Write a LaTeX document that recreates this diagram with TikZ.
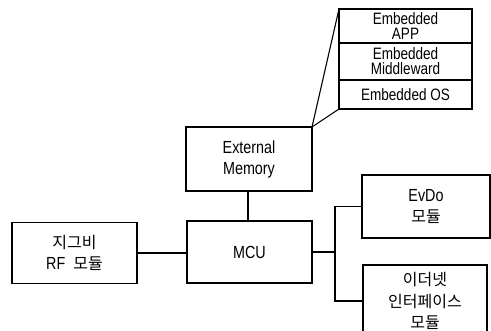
\documentclass[tikz,border=0pt]{standalone}
\usepackage{fontspec}
\setmainfont{Liberation Sans}[FakeStretch=0.82]
\newfontfamily\kr{Noto Sans CJK KR}
\begin{document}
\begin{tikzpicture}[x=1pt,y=-1pt,
  blk/.style={draw, line width=1.1pt, inner sep=0pt, outer sep=0pt, align=center,
    font=\fontsize{17.5}{21}\selectfont},
  krblk/.style={blk, font=\kr\fontsize{16}{21.5}\selectfont},
  layer/.style={blk, minimum width=133pt, font=\fontsize{16.5}{15}\selectfont},
  wire/.style={line width=1.1pt}]
\useasboundingbox (0,0) rectangle (491,331);
\clip (0,0) rectangle (491,331);

% software layers stored in external memory
\node[layer, minimum height=34pt] (app) at (405.5,26) {Embedded\\APP};
\node[layer, minimum height=37pt] (mid) at (405.5,61.5) {Embedded\\Middleward};
\node[layer, minimum height=29pt] (os)  at (405.5,94.5) {Embedded OS};

% hardware blocks
\node[blk, minimum width=126pt, minimum height=64pt] (ext) at (249,159) {External\\Memory};
\node[blk, minimum width=125pt, minimum height=62pt] (mcu) at (249.5,252) {MCU};
\node[blk, minimum width=125pt, minimum height=61pt] (zig) at (74.5,253)
  {{\kr\fontsize{16}{21}\selectfont 지그비}\\RF\ \ {\kr\fontsize{16}{21}\selectfont 모듈}};
\node[blk, minimum width=128pt, minimum height=63pt] (evdo) at (426,206.5)
  {EvDo\\{\kr\fontsize{16}{21}\selectfont 모듈}};
\node[krblk, minimum width=124pt, minimum height=72pt] (eth) at (425,301)
  {이더넷\\인터페이스\\모듈};

% zoom lines from the memory to its contents
\draw[wire] (ext.north east) -- (app.north west);
\draw[wire] (ext.north east) -- (os.south west);

% bus connections
\draw[wire] (ext.south -| 248,0) -- (mcu.north -| 248,0);
\draw[wire] (zig.east) -- (zig.east -| mcu.west);
\coordinate (j) at (335,252);
\draw[wire] (mcu.east |- j) -- (j);
\draw[wire] (j) |- (evdo.west);
\draw[wire] (j) |- (eth.west);
\end{tikzpicture}
\end{document}
